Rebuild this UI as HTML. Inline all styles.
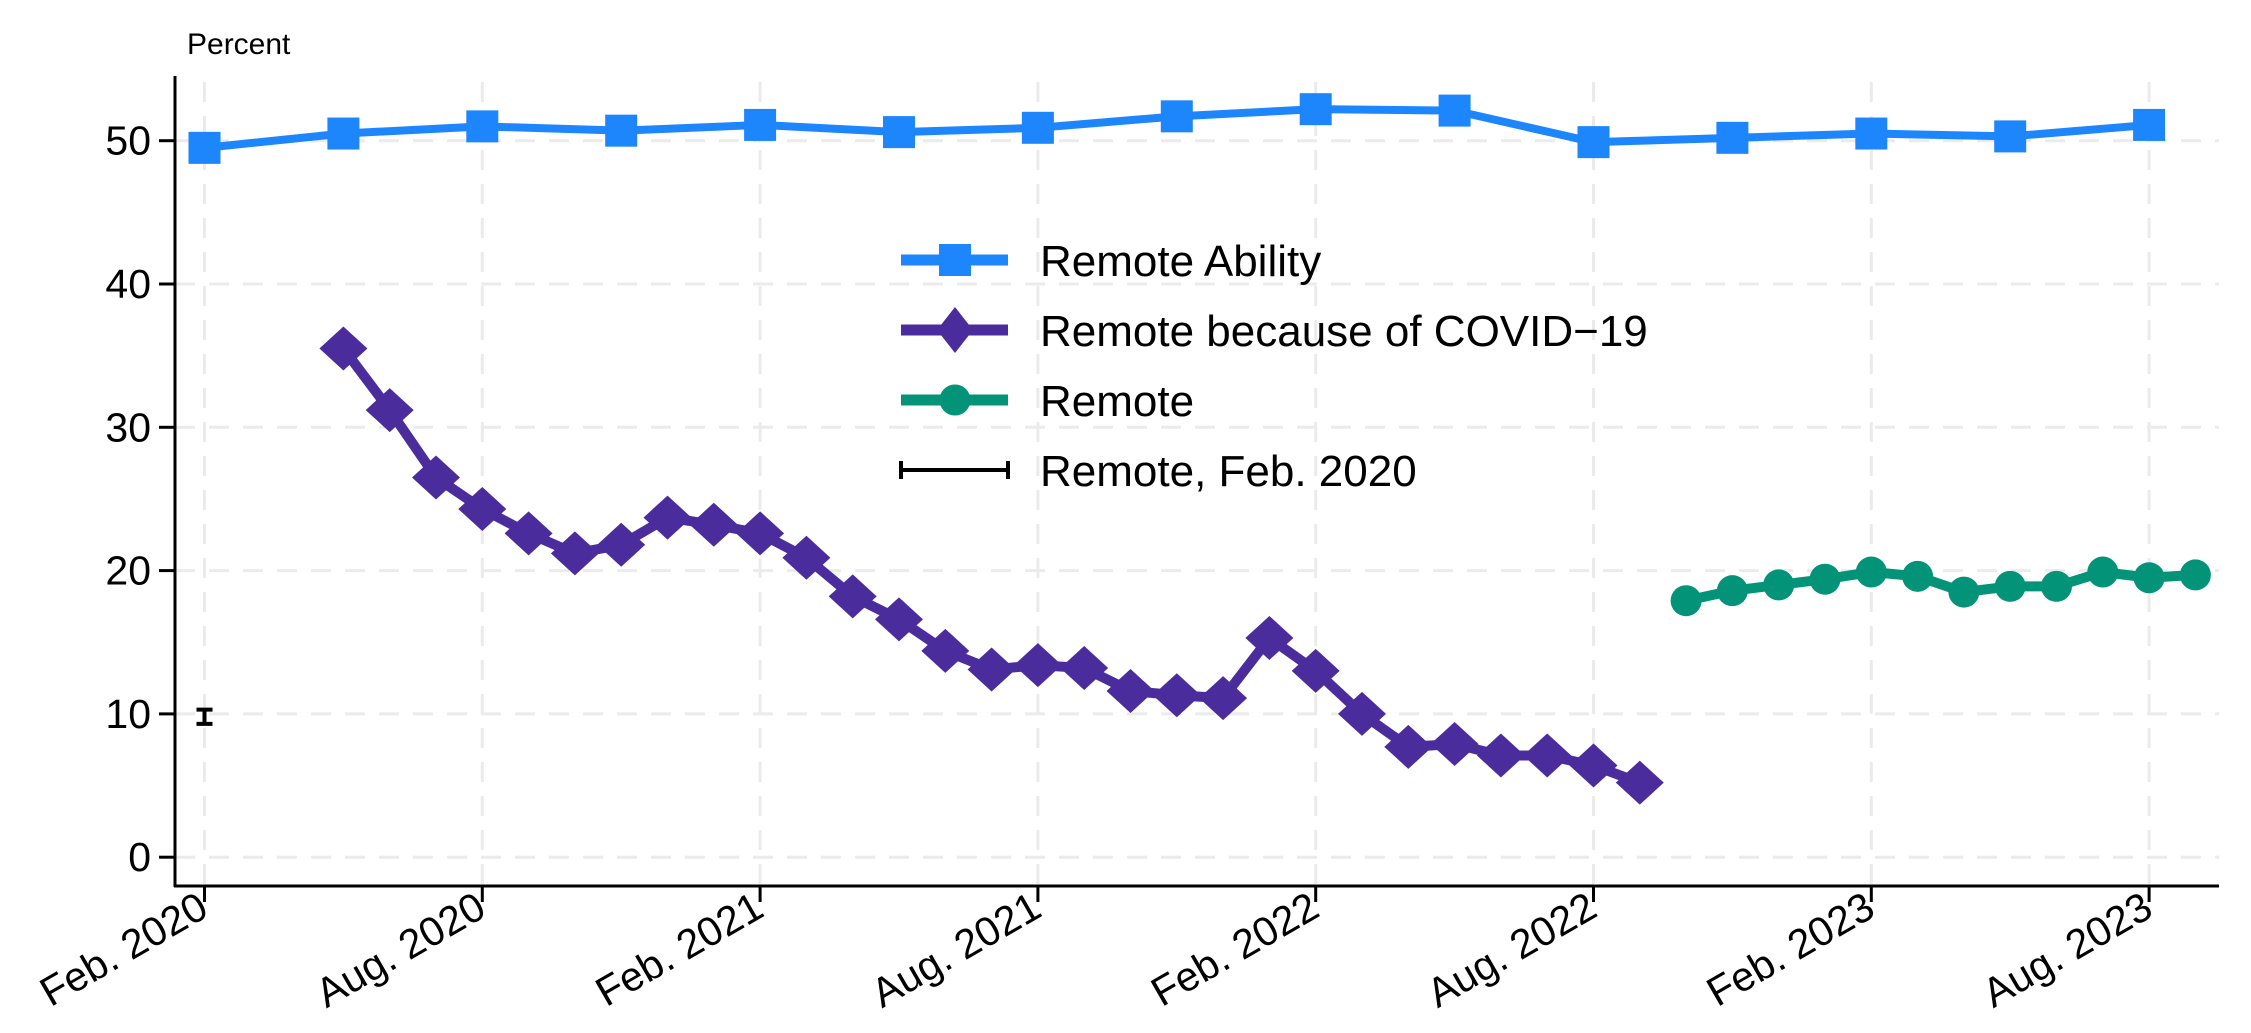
<!DOCTYPE html>
<html><head><meta charset="utf-8"><style>
html,body{margin:0;padding:0;background:#fff}
svg{display:block;font-family:"Liberation Sans",sans-serif}
</style></head><body>
<svg id="s" width="2251" height="1033" xmlns="http://www.w3.org/2000/svg"></svg>
<script>
const s=document.getElementById('s');
const X0=175,Y0=857.2,PY=14.33,XF=204.5,PM=46.3;
const xm=m=>XF+m*PM, yv=v=>Y0-v*PY;
let h='';
for(let v=0;v<=50;v+=10){h+=`<line x1="${X0}" x2="2219" y1="${yv(v)}" y2="${yv(v)}" stroke="#ebebeb" stroke-width="3" stroke-dasharray="20,14"/>`;}
for(let m=0;m<=42;m+=6){h+=`<line x1="${xm(m)}" x2="${xm(m)}" y1="82" y2="886" stroke="#ebebeb" stroke-width="3" stroke-dasharray="20,14"/>`;}
h+=`<line x1="${X0}" x2="${X0}" y1="76" y2="887" stroke="#000" stroke-width="3"/>`;
h+=`<line x1="${X0-1}" x2="2219" y1="886" y2="886" stroke="#000" stroke-width="3"/>`;
for(let v=0;v<=50;v+=10){h+=`<line x1="${X0-16}" x2="${X0}" y1="${yv(v)}" y2="${yv(v)}" stroke="#000" stroke-width="3"/><text x="${X0-24}" y="${yv(v)+14}" font-size="41" text-anchor="end">${v}</text>`;}
const labs=['Feb. 2020','Aug. 2020','Feb. 2021','Aug. 2021','Feb. 2022','Aug. 2022','Feb. 2023','Aug. 2023'];
labs.forEach((l,i)=>{const x=xm(i*6);h+=`<line x1="${x}" x2="${x}" y1="886" y2="902" stroke="#000" stroke-width="3"/><text transform="translate(${x+6},${915}) rotate(-30)" font-size="41" text-anchor="end">${l}</text>`;});
h+=`<text x="187" y="54" font-size="30">Percent</text>`;
h+=`<path d="M${xm(0)},${yv(10.3)}V${yv(9.3)}M${xm(0)-8},${yv(10.3)}h16M${xm(0)-8},${yv(9.3)}h16" stroke="#000" stroke-width="4" fill="none"/>`;
function series(pts,col,lw,mk){
 h+=`<polyline points="${pts.map(p=>xm(p[0])+','+yv(p[1])).join(' ')}" fill="none" stroke="${col}" stroke-width="${lw}" stroke-linejoin="round"/>`;
 pts.forEach(p=>h+=mk(xm(p[0]),yv(p[1]),col));
}
const sq=(x,y,c)=>`<rect x="${x-16}" y="${y-16}" width="32" height="32" fill="${c}"/>`;
const dm=(x,y,c)=>`<path d="M${x},${y-22}L${x+24},${y}L${x},${y+22}L${x-24},${y}Z" fill="${c}"/>`;
const ci=(x,y,c)=>`<circle cx="${x}" cy="${y}" r="15.5" fill="${c}"/>`;
const ab=[49.5,50.5,51,50.7,51.1,50.6,50.9,51.7,52.2,52.1,49.9,50.2,50.5,50.3,51.1];
series(ab.map((v,i)=>[i*3,v]),'#1e86fd',8,sq);
const cv=[35.5,31.2,26.5,24.3,22.6,21.2,21.8,23.7,23.2,22.6,20.9,18.2,16.6,14.4,13.1,13.4,13.2,11.6,11.3,11.1,15.3,13,10,7.7,7.9,7.1,7.1,6.4,5.2];
series(cv.map((v,i)=>[i+3,v]),'#4b2c9c',10,dm);
const rm=[17.9,18.6,19.0,19.4,19.9,19.6,18.5,18.9,18.9,19.9,19.5,19.7];
series(rm.map((v,i)=>[i+32,v]),'#029379',10,ci);
const LX1=901,LX2=1008,LT=1040;
h+=`<line x1="${LX1}" x2="${LX2}" y1="260" y2="260" stroke="#1e86fd" stroke-width="11"/>`+sq(955,260,'#1e86fd');
h+=`<line x1="${LX1}" x2="${LX2}" y1="330" y2="330" stroke="#4b2c9c" stroke-width="11"/><path d="M955,307L973,330L955,353L937,330Z" fill="#4b2c9c"/>`;
h+=`<line x1="${LX1}" x2="${LX2}" y1="400" y2="400" stroke="#029379" stroke-width="11"/>`+ci(955,400,'#029379');
h+=`<path d="M${LX1},461V479M${LX1},470H${LX2}M${LX2},461V479" stroke="#000" stroke-width="4"/>`;
[['Remote Ability',260],['Remote because of COVID\u221219',330],['Remote',400],['Remote, Feb. 2020',470]].forEach(a=>h+=`<text x="${LT}" y="${a[1]+16}" font-size="44">${a[0]}</text>`);
s.innerHTML=h;
</script>
</body></html>
